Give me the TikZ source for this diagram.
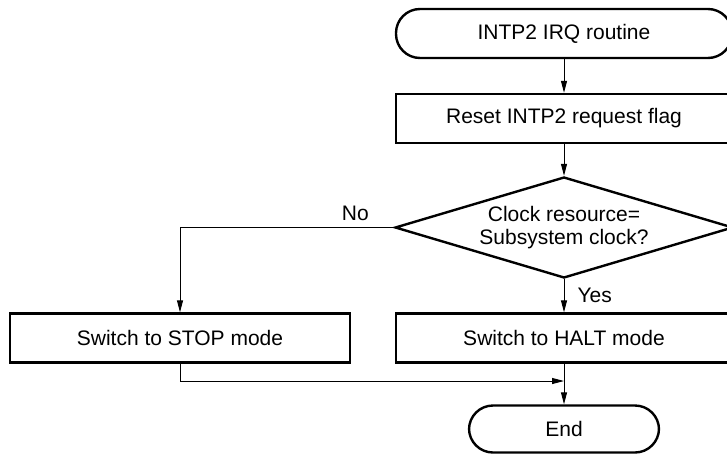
\documentclass[tikz,border=0pt]{standalone}
\usepackage{fontspec}
\setmainfont{Liberation Sans}
\usetikzlibrary{arrows.meta,shapes.geometric}
\begin{document}
\begin{tikzpicture}[x=1pt,y=-1pt,
  font=\fontsize{21}{22.5}\selectfont,
  box/.style={draw,line width=2.4pt,rectangle,minimum width=336pt,minimum height=49pt,inner sep=0pt},
  term/.style={box,rounded corners=24pt},
  dec/.style={draw,line width=2.4pt,diamond,aspect=3.35,inner sep=0pt,minimum width=338pt,minimum height=101pt,align=center},
  arr/.style={line width=1pt,-{Triangle[length=12pt,width=6pt]}},
  lbl/.style={inner sep=0pt}]
\useasboundingbox (0,0) rectangle (727,455);
\clip (0,0) rectangle (727,455);
\node[term] (start) at (564,33.5) {INTP2 IRQ routine};
\node[box] (reset) at (564,118.5) {Reset INTP2 request flag};
\node[dec] (dia) at (564,227.5) {Clock resource=\\Subsystem clock?};
\node[box] (halt) at (564,338) {Switch to HALT mode};
\node[box,minimum width=340pt] (stop) at (180,338) {Switch to STOP mode};
\node[term,minimum width=190pt,minimum height=47pt] (end) at (564,429) {End};
\coordinate (j) at (564,381);
\draw[arr] (start) -- (reset);
\draw[arr] (reset) -- (dia);
\draw[arr] (dia.west) -| node[lbl,pos=0.09,anchor=south,yshift=6pt] (no) {No} (stop.north);
\draw[arr] (dia.south) -- node[lbl,midway,anchor=west,xshift=13pt] (yes) {Yes} (halt.north);
\draw[arr] (stop.south) |- (j);
\draw[arr] (halt) -- (end);
\end{tikzpicture}
\end{document}
